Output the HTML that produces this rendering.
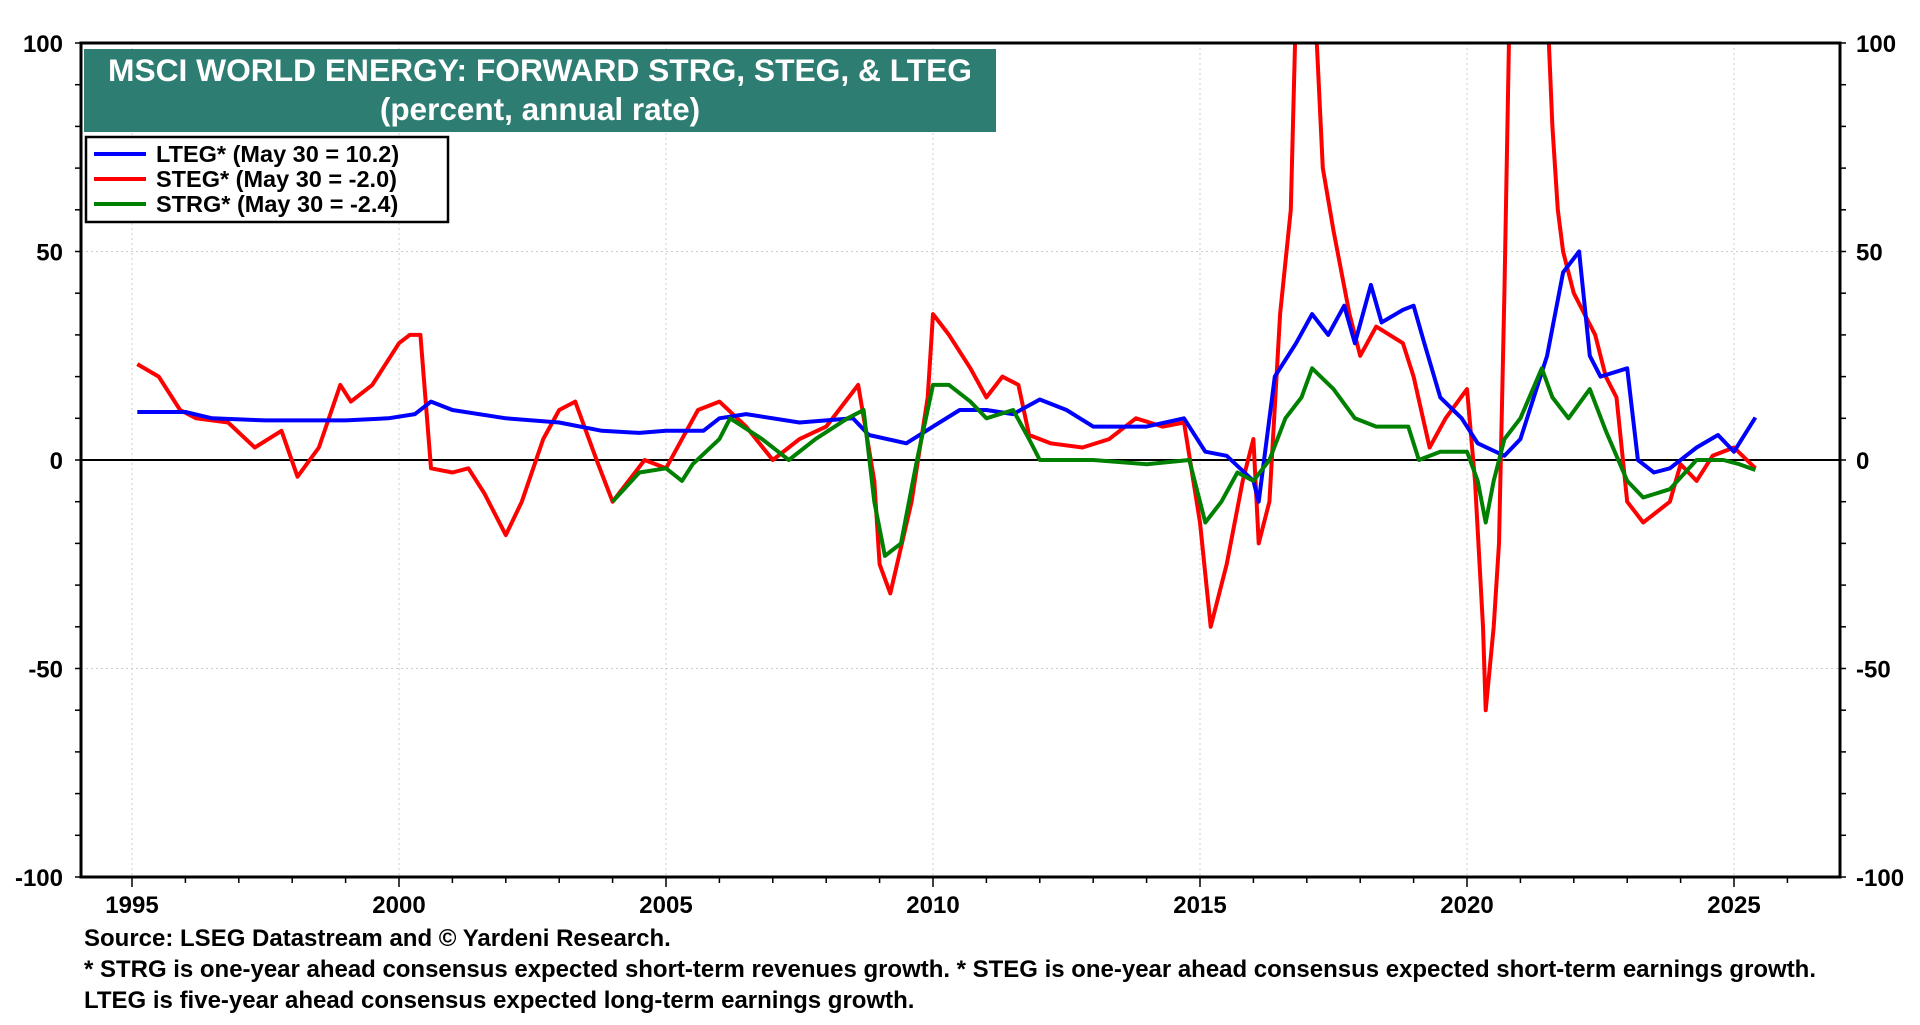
<!DOCTYPE html>
<html><head><meta charset="utf-8"><style>
body{margin:0;background:#fff;width:1920px;height:1020px;overflow:hidden;font-family:"Liberation Sans",Arial,sans-serif;}
svg text{font-family:"Liberation Sans",Arial,sans-serif;font-weight:bold;}
</style></head><body>
<svg id="chart" width="1920" height="1020" xmlns="http://www.w3.org/2000/svg">
<defs><clipPath id="plotclip"><rect x="81" y="43" width="1759" height="834"/></clipPath></defs>
<g id="grid"></g>
<g id="zero"></g>
<g id="series" clip-path="url(#plotclip)"></g>
<g id="axes"></g>
<g>
<rect x="84" y="49" width="912" height="83" fill="#2e7d72"/>
<text x="540" y="81" text-anchor="middle" fill="#fff" font-size="31.5" textLength="864" lengthAdjust="spacingAndGlyphs">MSCI WORLD ENERGY: FORWARD STRG, STEG, &amp; LTEG</text>
<text x="540" y="120" text-anchor="middle" fill="#fff" font-size="31.5">(percent, annual rate)</text>
</g>
<g>
<rect x="86" y="137" width="362" height="85" fill="#fff" stroke="#000" stroke-width="2.5"/>
<g><line x1="94" y1="154" x2="146" y2="154" stroke="#0000ff" stroke-width="4"/><text x="156" y="162" font-size="23.5">LTEG* (May 30 = 10.2)</text></g>
<g><line x1="94" y1="179" x2="146" y2="179" stroke="#ff0000" stroke-width="4"/><text x="156" y="187" font-size="23.5">STEG* (May 30 = -2.0)</text></g>
<g><line x1="94" y1="204" x2="146" y2="204" stroke="#008000" stroke-width="4"/><text x="156" y="212" font-size="23.5">STRG* (May 30 = -2.4)</text></g>
</g>
<g>
<text x="84" y="946" font-size="24">Source: LSEG Datastream and © Yardeni Research.</text>
<text x="84" y="977" font-size="24" textLength="1732" lengthAdjust="spacingAndGlyphs">* STRG is one-year ahead consensus expected short-term revenues growth. * STEG is one-year ahead consensus expected short-term earnings growth.</text>
<text x="84" y="1008" font-size="24">LTEG is five-year ahead consensus expected long-term earnings growth.</text>
</g>
</svg>
<script>
const yTicks=[100,50,0,-50,-100];
const xTicks=[1995,2000,2005,2010,2015,2020,2025];
const ltegX=[1995.1,1996,1996.5,1997.5,1998,1999,1999.8,2000.3,2000.6,2001,2002,2003,2003.8,2004.5,2005,2005.7,2006,2006.5,2007.5,2008.5,2008.8,2009.5,2010,2010.5,2011,2011.5,2012,2012.5,2013,2014,2014.7,2015.1,2015.5,2016,2016.1,2016.4,2016.8,2017.1,2017.4,2017.7,2017.9,2018.2,2018.4,2018.8,2019,2019.2,2019.5,2019.9,2020.2,2020.7,2021,2021.5,2021.8,2022.1,2022.3,2022.5,2023,2023.2,2023.5,2023.8,2024.3,2024.7,2025,2025.4];
const ltegY=[11.5,11.5,10,9.5,9.5,9.5,10,11,14,12,10,9,7,6.5,7,7,10,11,9,10,6,4,8,12,12,11,14.5,12,8,8,10,2,1,-5,-10,20,28,35,30,37,28,42,33,36,37,28,15,10,4,1,5,25,45,50,25,20,22,0,-3,-2,3,6,2,10.2];
const stegX=[1995.1,1995.5,1995.9,1996.2,1996.8,1997.3,1997.8,1998.1,1998.5,1998.9,1999.1,1999.5,2000,2000.2,2000.4,2000.6,2001,2001.3,2001.6,2002,2002.3,2002.7,2003,2003.3,2003.7,2004,2004.3,2004.6,2005,2005.3,2005.6,2006,2006.5,2007,2007.5,2008,2008.6,2008.9,2009,2009.2,2009.6,2009.9,2010,2010.3,2010.7,2011,2011.3,2011.6,2011.8,2012.2,2012.8,2013.3,2013.8,2014.3,2014.7,2015,2015.2,2015.5,2015.8,2016,2016.1,2016.3,2016.5,2016.7,2016.8,2017.15,2017.3,2017.5,2017.8,2018,2018.3,2018.8,2019,2019.3,2019.6,2020,2020.15,2020.3,2020.35,2020.5,2020.6,2020.7,2020.8,2021.5,2021.6,2021.7,2021.8,2022,2022.4,2022.6,2022.8,2023,2023.3,2023.8,2024,2024.3,2024.6,2025,2025.4];
const stegY=[23,20,12,10,9,3,7,-4,3,18,14,18,28,30,30,-2,-3,-2,-8,-18,-10,5,12,14,0,-10,-5,0,-2,5,12,14,8,0,5,8,18,-5,-25,-32,-10,15,35,30,22,15,20,18,6,4,3,5,10,8,9,-15,-40,-25,-5,5,-20,-10,35,60,110,110,70,55,35,25,32,28,20,3,10,17,-5,-40,-60,-40,-20,40,110,110,80,60,50,40,30,20,15,-10,-15,-10,-1,-5,1,3,-2];
const strgX=[2004,2004.5,2005,2005.3,2005.5,2006,2006.2,2006.8,2007.3,2007.8,2008.4,2008.7,2008.9,2009.1,2009.4,2009.7,2010,2010.3,2010.7,2011,2011.5,2011.8,2012,2013,2014,2014.8,2015.1,2015.4,2015.7,2016,2016.3,2016.6,2016.9,2017.1,2017.5,2017.9,2018.3,2018.9,2019.1,2019.5,2020,2020.2,2020.35,2020.5,2020.7,2021,2021.4,2021.6,2021.9,2022.3,2022.6,2023,2023.3,2023.8,2024.3,2024.8,2025.1,2025.4];
const strgY=[-10,-3,-2,-5,-1,5,10,5,0,5,10,12,-10,-23,-20,0,18,18,14,10,12,5,0,0,-1,0,-15,-10,-3,-5,0,10,15,22,17,10,8,8,0,2,2,-5,-15,-5,5,10,22,15,10,17,7,-5,-9,-7,0,0,-1,-2.4];

const X0=132,PXY=53.4,Y0=460,PXV=4.17;
const xs=y=>X0+(y-1995)*PXY;
const ys=v=>Y0-v*PXV;
const NS="http://www.w3.org/2000/svg";
function mk(tag,attrs,parent){const e=document.createElementNS(NS,tag);for(const k in attrs)e.setAttribute(k,attrs[k]);parent.appendChild(e);return e;}
const grid=document.getElementById('grid'),axes=document.getElementById('axes'),ser=document.getElementById('series'),zero=document.getElementById('zero');
xTicks.forEach(t=>{const l=mk('line',{x1:xs(t),x2:xs(t),y1:43,y2:877,stroke:'#ccc','stroke-dasharray':'2,3','stroke-width':1},grid);

});
yTicks.forEach(t=>{if(t===0||Math.abs(t)===100)return;const l=mk('line',{x1:81,x2:1840,y1:ys(t),y2:ys(t),stroke:'#ccc','stroke-dasharray':'2,3','stroke-width':1},grid);

});
const zl=mk('line',{x1:81,x2:1840,y1:ys(0),y2:ys(0),stroke:'#000','stroke-width':2},zero);


function linePath(xa,ya){let d='';for(let i=0;i<xa.length;i++){d+=(i?'L':'M')+xs(xa[i]).toFixed(1)+','+ys(ya[i]).toFixed(1);}return d;}
const order=[[stegX,stegY,'#ff0000','steg-line'],[ltegX,ltegY,'#0000ff','lteg-line'],[strgX,strgY,'#008000','strg-line']];
order.forEach(s=>{const p=mk('path',{d:linePath(s[0],s[1]),fill:'none',stroke:s[2],'stroke-width':4,'stroke-linejoin':'round'},ser);

});
mk('rect',{x:81,y:43,width:1759,height:834,fill:'none',stroke:'#000','stroke-width':3},axes);
for(let v=-100;v<=100;v+=10){mk('line',{x1:75,x2:81,y1:ys(v),y2:ys(v),stroke:'#000','stroke-width':1.5},axes);mk('line',{x1:1840,x2:1846,y1:ys(v),y2:ys(v),stroke:'#000','stroke-width':1.5},axes);}
for(let yr=1994;yr<=2027;yr++){const x=xs(yr);if(x<81||x>1840)continue;mk('line',{x1:x,x2:x,y1:877,y2:xTicks.includes(yr)?887:883,stroke:'#000','stroke-width':1.5},axes);}
yTicks.forEach(t=>{const a=mk('text',{x:63,y:ys(t)+9,'text-anchor':'end','font-size':24},axes);a.textContent=t;


const b=mk('text',{x:1856,y:ys(t)+9,'text-anchor':'start','font-size':24},axes);b.textContent=t;

});
xTicks.forEach(t=>{const a=mk('text',{x:xs(t),y:913,'text-anchor':'middle','font-size':24},axes);a.textContent=t;

});
</script>
</body></html>
